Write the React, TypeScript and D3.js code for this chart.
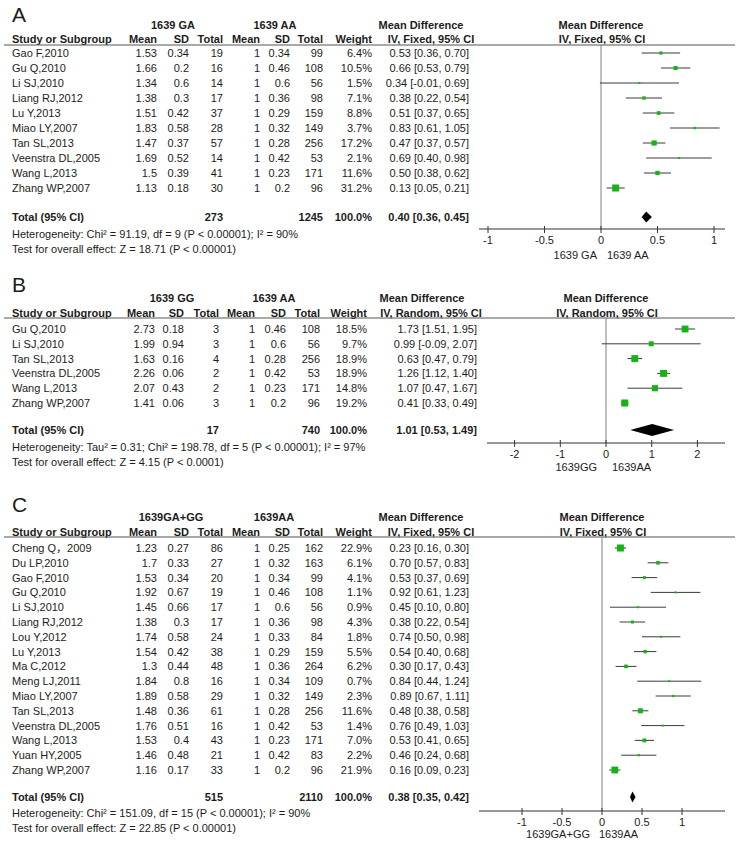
import React from 'react'
import * as d3 from 'd3'

// A: 1639 GA vs 1639 AA (fixed)
const studiesA = ['Gao F,2010', 'Gu Q,2010', 'Li SJ,2010', 'Liang RJ,2012', 'Lu Y,2013', 'Miao LY,2007', 'Tan SL,2013', 'Veenstra DL,2005', 'Wang L,2013', 'Zhang WP,2007']
const expA = [[1.53, 0.34, 19], [1.66, 0.2, 16], [1.34, 0.6, 14], [1.38, 0.3, 17], [1.51, 0.42, 37], [1.83, 0.58, 28], [1.47, 0.37, 57], [1.69, 0.52, 14], [1.5, 0.39, 41], [1.13, 0.18, 30]]
const ctlA = [[1, 0.34, 99], [1, 0.46, 108], [1, 0.6, 56], [1, 0.36, 98], [1, 0.29, 159], [1, 0.32, 149], [1, 0.28, 256], [1, 0.42, 53], [1, 0.23, 171], [1, 0.2, 96]]
const weightA = [6.4, 10.5, 1.5, 7.1, 8.8, 3.7, 17.2, 2.1, 11.6, 31.2]
const mdA = [[0.53, 0.36, 0.70], [0.66, 0.53, 0.79], [0.34, -0.01, 0.69], [0.38, 0.22, 0.54], [0.51, 0.37, 0.65], [0.83, 0.61, 1.05], [0.47, 0.37, 0.57], [0.69, 0.40, 0.98], [0.50, 0.38, 0.62], [0.13, 0.05, 0.21]]
const totalA = [273, 1245, 0.40, 0.36, 0.45]
const ticksA = [-1, -0.5, 0, 0.5, 1]

// B: 1639 GG vs 1639 AA (random)
const studiesB = ['Gu Q,2010', 'Li SJ,2010', 'Tan SL,2013', 'Veenstra DL,2005', 'Wang L,2013', 'Zhang WP,2007']
const expB = [[2.73, 0.18, 3], [1.99, 0.94, 3], [1.63, 0.16, 4], [2.26, 0.06, 2], [2.07, 0.43, 2], [1.41, 0.06, 3]]
const ctlB = [[1, 0.46, 108], [1, 0.6, 56], [1, 0.28, 256], [1, 0.42, 53], [1, 0.23, 171], [1, 0.2, 96]]
const weightB = [18.5, 9.7, 18.9, 18.9, 14.8, 19.2]
const mdB = [[1.73, 1.51, 1.95], [0.99, -0.09, 2.07], [0.63, 0.47, 0.79], [1.26, 1.12, 1.40], [1.07, 0.47, 1.67], [0.41, 0.33, 0.49]]
const totalB = [17, 740, 1.01, 0.53, 1.49]
const ticksB = [-2, -1, 0, 1, 2]

// C: 1639GA+GG vs 1639AA (fixed)
const studiesC = ['Cheng Q，2009', 'Du LP,2010', 'Gao F,2010', 'Gu Q,2010', 'Li SJ,2010', 'Liang RJ,2012', 'Lou Y,2012', 'Lu Y,2013', 'Ma C,2012', 'Meng LJ,2011', 'Miao LY,2007', 'Tan SL,2013', 'Veenstra DL,2005', 'Wang L,2013', 'Yuan HY,2005', 'Zhang WP,2007']
const expC = [[1.23, 0.27, 86], [1.7, 0.33, 27], [1.53, 0.34, 20], [1.92, 0.67, 19], [1.45, 0.66, 17], [1.38, 0.3, 17], [1.74, 0.58, 24], [1.54, 0.42, 38], [1.3, 0.44, 48], [1.84, 0.8, 16], [1.89, 0.58, 29], [1.48, 0.36, 61], [1.76, 0.51, 16], [1.53, 0.4, 43], [1.46, 0.48, 21], [1.16, 0.17, 33]]
const ctlC = [[1, 0.25, 162], [1, 0.32, 163], [1, 0.34, 99], [1, 0.46, 108], [1, 0.6, 56], [1, 0.36, 98], [1, 0.33, 84], [1, 0.29, 159], [1, 0.36, 264], [1, 0.34, 109], [1, 0.32, 149], [1, 0.28, 256], [1, 0.42, 53], [1, 0.23, 171], [1, 0.42, 83], [1, 0.2, 96]]
const weightC = [22.9, 6.1, 4.1, 1.1, 0.9, 4.3, 1.8, 5.5, 6.2, 0.7, 2.3, 11.6, 1.4, 7.0, 2.2, 21.9]
const mdC = [[0.23, 0.16, 0.30], [0.70, 0.57, 0.83], [0.53, 0.37, 0.69], [0.92, 0.61, 1.23], [0.45, 0.10, 0.80], [0.38, 0.22, 0.54], [0.74, 0.50, 0.98], [0.54, 0.40, 0.68], [0.30, 0.17, 0.43], [0.84, 0.44, 1.24], [0.89, 0.67, 1.11], [0.48, 0.38, 0.58], [0.76, 0.49, 1.03], [0.53, 0.41, 0.65], [0.46, 0.24, 0.68], [0.16, 0.09, 0.23]]
const totalC = [515, 2110, 0.38, 0.35, 0.42]
const ticksC = [-1, -0.5, 0, 0.5, 1]

const FONT = '"Liberation Sans", Arial, "Noto Sans CJK SC", sans-serif'
const INK = '#1c1c1c'
const GREEN = '#16b316'

const fmtCI = (m: number[]) => `${m[0].toFixed(2)} [${m[1].toFixed(2)}, ${m[2].toFixed(2)}]`

function Panel(p: any) {
  const { L } = p
  const x = d3.scaleLinear().domain([0, 1]).range([L.zero, L.zero + L.unit])
  const size = d3.scaleSqrt().domain([0, d3.max(p.weights as number[])!]).range([0, 7])
  const rowY = (i: number) => L.row0 + i * L.step
  const cols = L.cols
  const base = (c: number) => c + 4
  return (
    <g fontFamily={FONT} fontSize={11} fill={INK}>
      <text x={12} y={L.letterY} fontSize={21}>{p.letter}</text>
      <g fontWeight="bold">
        <text x={L.grp[0]} y={L.grpY} textAnchor="middle">{p.groups[0]}</text>
        <text x={L.grp[1]} y={L.grpY} textAnchor="middle">{p.groups[1]}</text>
        <text x={L.mdHead} y={L.grpY} textAnchor="middle">Mean Difference</text>
        <text x={L.zero} y={L.grpY} textAnchor="middle">Mean Difference</text>
        <text x={12} y={L.headY}>Study or Subgroup</text>
        {['Mean', 'SD', 'Total', 'Mean', 'SD', 'Total', 'Weight'].map((h, j) => (
          <text key={j} x={cols[j]} y={L.headY} textAnchor="end">{h}</text>
        ))}
        <text x={L.ivHead} y={L.headY} textAnchor="middle">{p.method}</text>
        <text x={L.zero + 1} y={L.headY} textAnchor="middle">{p.method}</text>
      </g>
      <line x1={4} x2={735} y1={L.lineY} y2={L.lineY} stroke="#555" strokeWidth={1} />
      {p.studies.map((s: string, i: number) => {
        const y = rowY(i)
        const vals = [...p.exp[i], ...p.ctl[i]].map(String)
        return (
          <g key={s}>
            <text x={12} y={base(y)}>{s}</text>
            {vals.map((v: string, j: number) => (
              <text key={j} x={cols[j]} y={base(y)} textAnchor="end">{v}</text>
            ))}
            <text x={cols[6]} y={base(y)} textAnchor="end">{p.weights[i].toFixed(1)}%</text>
            <text x={L.mdX} y={base(y)} textAnchor="end">{fmtCI(p.md[i])}</text>
          </g>
        )
      })}
      <g fontWeight="bold">
        <text x={12} y={base(L.totalY)}>Total (95% CI)</text>
        <text x={cols[2]} y={base(L.totalY)} textAnchor="end">{p.total[0]}</text>
        <text x={cols[5]} y={base(L.totalY)} textAnchor="end">{p.total[1]}</text>
        <text x={cols[6]} y={base(L.totalY)} textAnchor="end">100.0%</text>
        <text x={L.mdX} y={base(L.totalY)} textAnchor="end">{fmtCI(p.total.slice(2))}</text>
      </g>
      <text x={12} y={L.hetY}>{p.het}</text>
      <text x={12} y={L.testY}>{p.test}</text>

      {/* forest plot */}
      <line x1={L.zero} x2={L.zero} y1={L.lineY} y2={L.axisY} stroke="#808080" strokeWidth={1} />
      {p.md.map((m: number[], i: number) => {
        const y = rowY(i)
        const s = Math.max(2, size(p.weights[i]))
        return (
          <g key={i}>
            <line x1={x(m[1])} x2={x(m[2])} y1={y} y2={y} stroke="#3a3a3a" strokeWidth={1} />
            <rect x={x(m[0]) - s / 2} y={y - s / 2} width={s} height={s} fill={GREEN} />
          </g>
        )
      })}
      <path
        d={`M${x(p.total[3])},${L.totalY} L${x(p.total[2])},${L.totalY - L.dia} L${x(p.total[4])},${L.totalY} L${x(p.total[2])},${L.totalY + L.dia} Z`}
        fill="#000"
      />
      <line x1={L.axis[0]} x2={L.axis[1]} y1={L.axisY} y2={L.axisY} stroke="#333" strokeWidth={1} />
      {p.ticks.map((t: number) => (
        <g key={t}>
          <line x1={x(t)} x2={x(t)} y1={L.axisY - 3} y2={L.axisY + 4} stroke="#333" strokeWidth={1} />
          <text x={x(t)} y={L.tickY} textAnchor="middle">{t}</text>
        </g>
      ))}
      <text x={L.fav[0]} y={L.favY} textAnchor="end">{p.fav[0]}</text>
      <text x={L.fav[1]} y={L.favY}>{p.fav[1]}</text>
    </g>
  )
}

const colsAC = [157, 189, 223, 260, 290, 323, 372]

const layoutA = {
  letterY: 22, grpY: 29, grp: [173, 275], headY: 43, lineY: 45, row0: 53, step: 15,
  totalY: 217, hetY: 238, testY: 253, cols: colsAC, mdX: 469, mdHead: 421, ivHead: 431,
  zero: 601, unit: 113, axisY: 229, axis: [479, 725], tickY: 244, favY: 259, fav: [597, 607], dia: 5.5,
}
const layoutB = {
  letterY: 292, grpY: 302, grp: [172, 274], headY: 317, lineY: 318, row0: 329, step: 14.8,
  totalY: 430, hetY: 451, testY: 466, cols: [155, 184, 219, 255, 286, 320, 367], mdX: 477, mdHead: 422, ivHead: 431,
  zero: 606, unit: 45.7, axisY: 443, axis: [487, 725], tickY: 458, favY: 471, fav: [597, 612], dia: 6,
}
const layoutC = {
  letterY: 512, grpY: 521, grp: [171, 274], headY: 536, lineY: 537, row0: 548, step: 14.8,
  totalY: 797, hetY: 817, testY: 832, cols: colsAC, mdX: 469, mdHead: 421, ivHead: 431,
  zero: 602, unit: 80, axisY: 811, axis: [479, 725], tickY: 825.5, favY: 838, fav: [590, 599], dia: 5.5,
}

export default function App() {
  return (
    <svg width={737} height={841} style={{ position: 'absolute', left: 0, top: 0, background: '#fff' }}>
      <rect width={737} height={841} fill="#fff" />
      <Panel L={layoutA} letter="A" groups={['1639 GA', '1639 AA']} method="IV, Fixed, 95% CI"
        studies={studiesA} exp={expA} ctl={ctlA} weights={weightA} md={mdA} total={totalA} ticks={ticksA}
        het="Heterogeneity: Chi² = 91.19, df = 9 (P < 0.00001); I² = 90%"
        test="Test for overall effect: Z = 18.71 (P < 0.00001)"
        fav={['1639 GA', '1639 AA']} />
      <Panel L={layoutB} letter="B" groups={['1639 GG', '1639 AA']} method="IV, Random, 95% CI"
        studies={studiesB} exp={expB} ctl={ctlB} weights={weightB} md={mdB} total={totalB} ticks={ticksB}
        het="Heterogeneity: Tau² = 0.31; Chi² = 198.78, df = 5 (P < 0.00001); I² = 97%"
        test="Test for overall effect: Z = 4.15 (P < 0.0001)"
        fav={['1639GG', '1639AA']} />
      <Panel L={layoutC} letter="C" groups={['1639GA+GG', '1639AA']} method="IV, Fixed, 95% CI"
        studies={studiesC} exp={expC} ctl={ctlC} weights={weightC} md={mdC} total={totalC} ticks={ticksC}
        het="Heterogeneity: Chi² = 151.09, df = 15 (P < 0.00001); I² = 90%"
        test="Test for overall effect: Z = 22.85 (P < 0.00001)"
        fav={['1639GA+GG', '1639AA']} />
    </svg>
  )
}
